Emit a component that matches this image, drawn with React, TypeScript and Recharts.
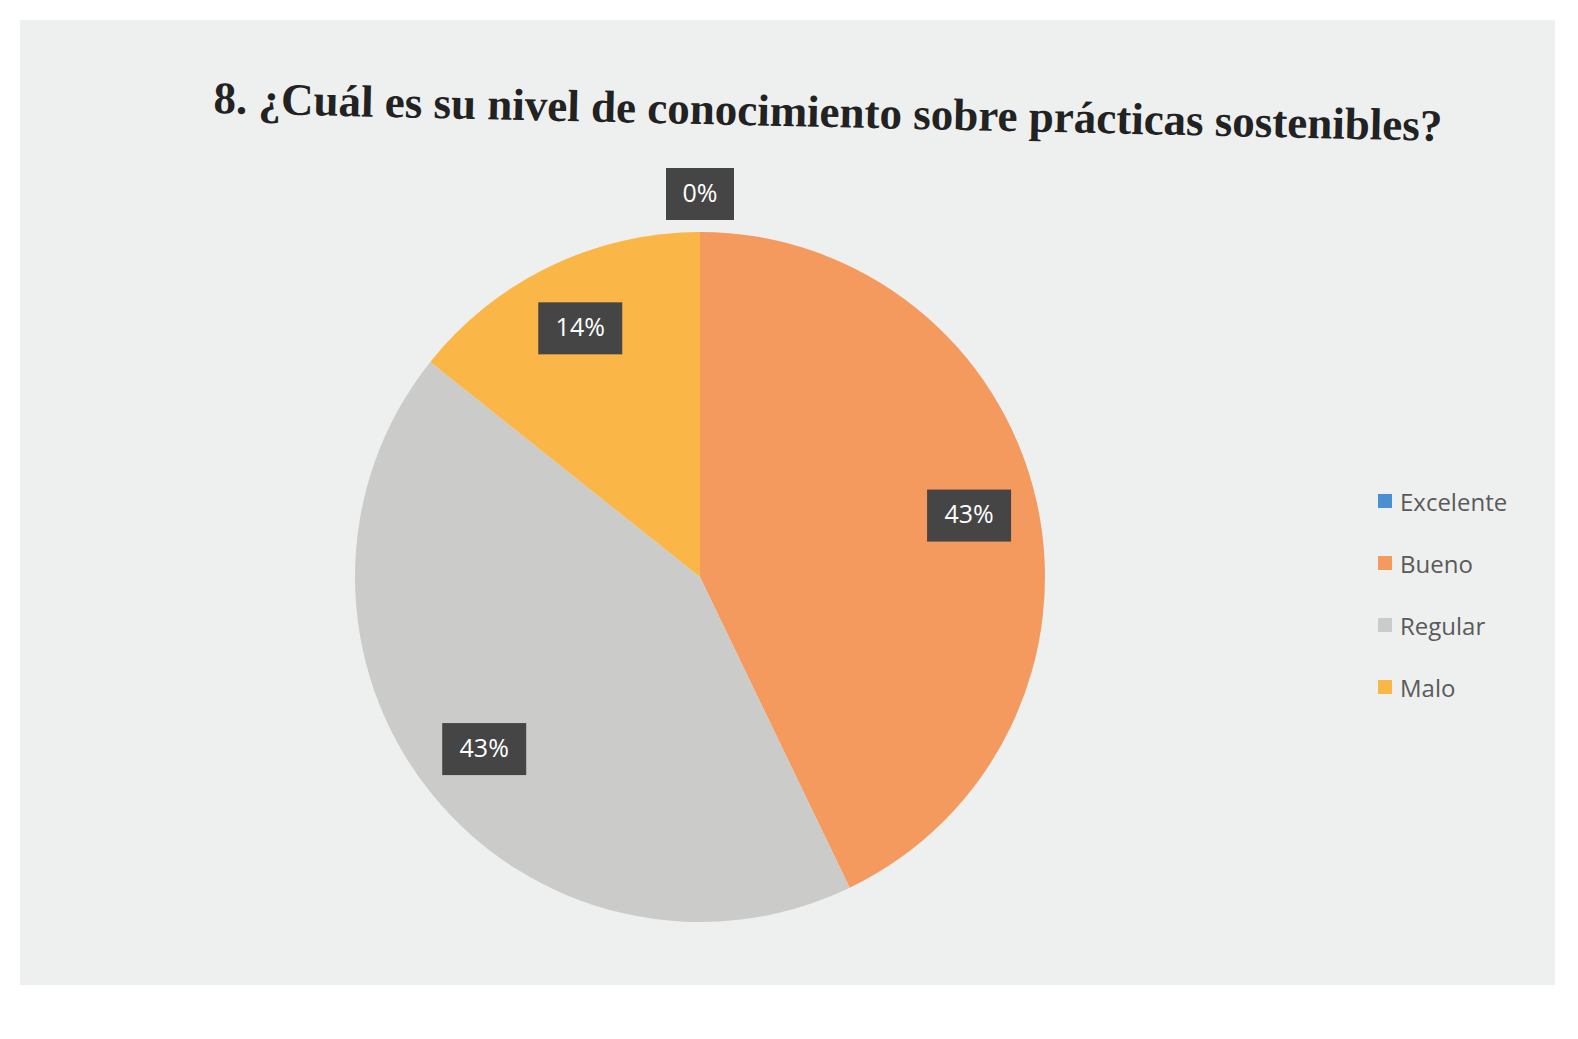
import React from "react";
import { PieChart, Pie, Cell, Legend } from "recharts";

const categories = ["Excelente", "Bueno", "Regular", "Malo"];
const responses = [0, 3, 3, 1];
const colors = ["#4a8fd0", "#f59a5e", "#cbcbc9", "#fbb648"];

const data = categories.map((name, i) => ({ name, value: responses[i] }));

const RADIAN = Math.PI / 180;

const renderLabel = (props: any) => {
  const { cx, cy, midAngle, outerRadius, percent } = props;
  const r = percent === 0 ? outerRadius + 38 : outerRadius * 0.8;
  const x = cx + r * Math.cos(-midAngle * RADIAN);
  const y = cy + r * Math.sin(-midAngle * RADIAN);
  const text = `${Math.round(percent * 100)}%`;
  const w = text.length > 2 ? 84 : 68;
  return (
    <g>
      <rect x={x - w / 2} y={y - 26} width={w} height={52} fill="#454545" />
      <text
        x={x}
        y={y + 1}
        fill="#ffffff"
        fontSize={25}
        fontFamily="'Open Sans', sans-serif"
        textAnchor="middle"
        dominantBaseline="middle"
      >
        {text}
      </text>
    </g>
  );
};

const LegendContent = () => {
  return (
    <div style={{ fontFamily: "'Open Sans', sans-serif" }}>
      {categories.map((name, index) => (
        <div
          key={`legend-${index}`}
          style={{ display: "flex", alignItems: "center", height: 62 }}
        >
          <span
            style={{
              display: "inline-block",
              width: 14,
              height: 14,
              background: colors[index],
              marginRight: 8,
            }}
          />
          <span style={{ color: "#5a5a5a", fontSize: 24 }}>{name}</span>
        </div>
      ))}
    </div>
  );
};

const App: React.FC = () => {
  return (
    <div style={{ position: "relative", width: 1562, height: 1023, background: "#ffffff" }}>
      <div
        style={{
          position: "absolute",
          left: 12,
          top: 12,
          width: 1535,
          height: 965,
          background: "#eef0ef",
        }}
      />
      <div
        style={{
          position: "absolute",
          left: 0,
          top: 78,
          width: 1640,
          textAlign: "center",
          fontFamily: "'Liberation Serif', 'Times New Roman', serif",
          fontWeight: "bold",
          fontSize: 45,
          color: "#222222",
          transform: "rotate(1.3deg)",
        }}
      >
        8. ¿Cuál es su nivel de conocimiento sobre prácticas sostenibles?
      </div>
      <div style={{ position: "absolute", left: 0, top: 0 }}>
        <PieChart width={1562} height={1000}>
          <Pie
            data={data}
            dataKey="value"
            nameKey="name"
            cx={687}
            cy={564}
            outerRadius={345}
            startAngle={90}
            endAngle={-270}
            stroke="none"
            labelLine={false}
            label={renderLabel}
            isAnimationActive={false}
          >
            {data.map((entry, index) => (
              <Cell key={`cell-${index}`} fill={colors[index]} />
            ))}
          </Pie>
          <Legend
            layout="vertical"
            verticalAlign="top"
            align="right"
            content={<LegendContent />}
            wrapperStyle={{ top: 462, left: 1370, width: 190 }}
          />
        </PieChart>
      </div>
    </div>
  );
};

export default App;
